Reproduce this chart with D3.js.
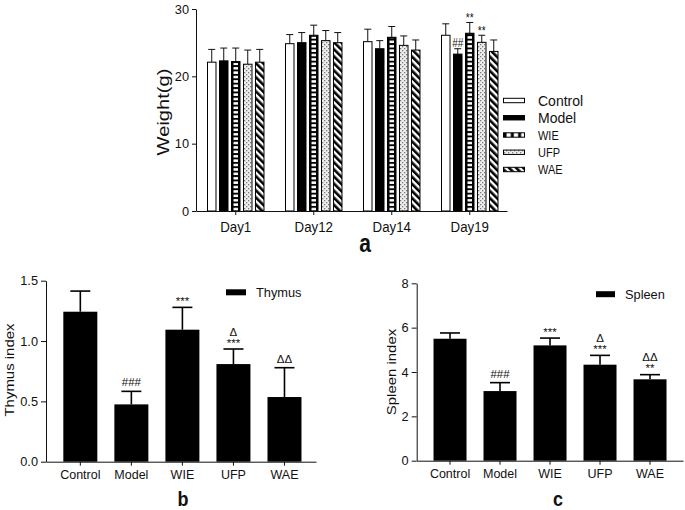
<!DOCTYPE html>
<html><head><meta charset="utf-8">
<script src="https://cdn.jsdelivr.net/npm/d3@7"></script>
<style>body{margin:0;background:#fff}svg{display:block}text{font-family:"Liberation Sans",Arial,sans-serif;fill:#111}</style>
</head><body>
<script>
// ---------- DATA ----------
const days = ["Day1", "Day12", "Day14", "Day19"];
const groups = ["Control", "Model", "WIE", "UFP", "WAE"];
// body weight means (g) per day
const controlW = [22.1, 24.85, 25.15, 26.1];
const modelW   = [22.3, 25.0, 24.1, 23.3];
const wieW     = [22.2, 26.1, 25.8, 26.4];
const ufpW     = [21.8, 25.3, 24.6, 25.05];
const waeW     = [22.1, 25.0, 23.9, 23.7];
// SD
const controlE = [1.9, 1.35, 1.85, 1.7];
const modelE   = [1.9, 1.5, 1.2, 0.8];
const wieE     = [2.0, 1.5, 1.6, 1.6];
const ufpE     = [2.1, 1.5, 1.4, 1.05];
const waeE     = [1.9, 1.5, 1.5, 1.7];
// significance marks on Day19
const day19Marks = ["", "##", "**", "**", ""];
const weightTicks = [0, 10, 20, 30];

const thymus    = [1.243, 0.475, 1.094, 0.809, 0.536];
const thymusE   = [0.171, 0.108, 0.185, 0.125, 0.243];
const thymusSig1 = ["", "###", "***", "***", "ΔΔ"];
const thymusSig2 = ["", "", "", "Δ", ""];
const thymusTicks = [0, 0.5, 1.0, 1.5];

const spleen    = [5.50, 3.14, 5.20, 4.33, 3.67];
const spleenE   = [0.26, 0.38, 0.33, 0.42, 0.21];
const spleenSig1 = ["", "###", "***", "***", "**"];
const spleenSig2 = ["", "", "", "Δ", "ΔΔ"];
const spleenTicks = [0, 2, 4, 6, 8];

// ---------- SETUP ----------
const svg = d3.select("body").append("svg").attr("width", 685).attr("height", 510);
const defs = svg.append("defs");

// WIE ladder (horizontal stripes)
const pW = defs.append("pattern").attr("id", "pWIE").attr("patternUnits", "userSpaceOnUse")
  .attr("width", 100).attr("height", 4.4);
pW.append("rect").attr("width", 100).attr("height", 4.4).attr("fill", "#000");
pW.append("rect").attr("width", 100).attr("height", 2.5).attr("y", 1).attr("fill", "#fff");
// WIE ladder for legend (vertical stripes)
const pWh = defs.append("pattern").attr("id", "pWIEh").attr("patternUnits", "userSpaceOnUse")
  .attr("width", 7.3).attr("height", 100).attr("x", 505);
pWh.append("rect").attr("width", 7.3).attr("height", 100).attr("fill", "#000");
pWh.append("rect").attr("width", 4.3).attr("height", 100).attr("x", 1.5).attr("fill", "#fff");
// UFP dotted
const pU = defs.append("pattern").attr("id", "pUFP").attr("patternUnits", "userSpaceOnUse")
  .attr("width", 4).attr("height", 4);
pU.append("rect").attr("width", 4).attr("height", 4).attr("fill", "#eeeeee");
pU.append("rect").attr("x", 0).attr("y", 0).attr("width", 1.3).attr("height", 1.3).attr("fill", "#7a7a7a");
pU.append("rect").attr("x", 2).attr("y", 2).attr("width", 1.3).attr("height", 1.3).attr("fill", "#7a7a7a");
// WAE diagonal stripes "\"
const pS = defs.append("pattern").attr("id", "pWAE").attr("patternUnits", "userSpaceOnUse")
  .attr("width", 5).attr("height", 5).attr("patternTransform", "rotate(-45)");
pS.append("rect").attr("width", 5).attr("height", 5).attr("fill", "#fff");
pS.append("rect").attr("width", 2.6).attr("height", 5).attr("fill", "#000");

function label(g, x, y, s, o = {}) {
  const t = g.append("text")
    .attr("transform", `translate(${x},${y}) scale(1,${o.sy || 1})` + (o.rot ? " rotate(-90)" : ""))
    .attr("font-size", o.size || 12)
    .attr("text-anchor", o.anchor || "middle")
    .text(s);
  if (o.weight) t.attr("font-weight", o.weight);
  if (o.rot) t.attr("dominant-baseline", "central");
  return t;
}
function styleAxis(ax) {
  ax.selectAll("path,line").attr("stroke", "#111").attr("stroke-width", 1);
}

// ---------- PANEL A ----------
const gA = svg.append("g");
const yA = d3.scaleLinear().domain([0, 30]).range([211, 9]);
const xA = d3.scaleBand().domain(days).range([196, 507]).paddingInner(0.263).paddingOuter(0.125).align(0.564);
const xAin = d3.scaleBand().domain(groups).range([0, xA.bandwidth()]).paddingInner(0.208);
const series = [
  { name: "Control", v: controlW, e: controlE, fill: "#fff" },
  { name: "Model", v: modelW, e: modelE, fill: "#000" },
  { name: "WIE", v: wieW, e: wieE, fill: "#000" },
  { name: "UFP", v: ufpW, e: ufpE, fill: "url(#pUFP)" },
  { name: "WAE", v: waeW, e: waeE, fill: "url(#pWAE)" }
];
const bw = xAin.bandwidth();
series.forEach((s, si) => {
  const sg = gA.append("g");
  const pts = days.map((d, i) => ({ d, v: s.v[i], e: s.e[i], x: xA(d) + xAin(s.name) }));
  sg.selectAll("line.eb").data(pts).join("line").attr("class", "eb")
    .attr("x1", p => p.x + bw / 2).attr("x2", p => p.x + bw / 2)
    .attr("y1", p => yA(p.v)).attr("y2", p => yA(p.v + p.e)).attr("stroke", "#111");
  sg.selectAll("line.cap").data(pts).join("line").attr("class", "cap")
    .attr("x1", p => p.x + bw / 2 - 3.5).attr("x2", p => p.x + bw / 2 + 3.5)
    .attr("y1", p => yA(p.v + p.e)).attr("y2", p => yA(p.v + p.e)).attr("stroke", "#111");
  sg.selectAll("rect.bar").data(pts).join("rect").attr("class", "bar")
    .attr("x", p => p.x + 0.5).attr("width", bw - 1)
    .attr("y", p => yA(p.v)).attr("height", p => yA(0) - yA(p.v))
    .attr("fill", s.fill).attr("stroke", "#000").attr("stroke-width", 1);
  if (s.name === "WIE") {
    sg.selectAll("rect.in").data(pts).join("rect").attr("class", "in")
      .attr("x", p => p.x + 2.5).attr("width", bw - 5)
      .attr("y", p => yA(p.v) + 1.5).attr("height", p => yA(0) - yA(p.v) - 1.5)
      .attr("fill", "url(#pWIE)");
  }
  const m = day19Marks[si];
  if (m) {
    const p = pts[3];
    const cy = yA(p.v + p.e) - (m[0] === "*" ? 7 : 6);
    label(gA, p.x + bw / 2, cy + (m[0] === "*" ? 0.57 : 0.36) * 10 * 1.2, m, { size: 10, sy: 1.2 });
  }
});
const axAy = gA.append("g").attr("transform", "translate(196,0)")
  .call(d3.axisLeft(yA).tickValues(weightTicks).tickSize(4).tickSizeOuter(0).tickPadding(3));
axAy.selectAll("text").attr("font-size", 12.8).attr("font-family", null);
styleAxis(axAy);
const axAx = gA.append("g").attr("transform", "translate(0,211)")
  .call(d3.axisBottom(xA).tickSize(4).tickSizeOuter(0));
axAx.selectAll("text").attr("y", 0).attr("dy", 0).attr("font-size", 13.3).attr("font-family", null)
  .attr("transform", "translate(0,20.5) scale(1,1.15)");
styleAxis(axAx);
label(gA, 163, 112, "Weight(g)", { size: 16.5, sy: 1.22, rot: true });
label(gA, 365, 251.7, "a", { size: 21, sy: 1.22, weight: "bold" });

// legend A
const legY = d3.scaleLinear().domain([0, 4]).range([100.5, 169.5]);
const legFill = ["#fff", "#000", "url(#pWIEh)", "url(#pUFP)", "url(#pWAE)"];
const legSize = [14, 14, 11, 11, 11];
const legSy = [1, 1, 1.2, 1.2, 1.2];
groups.forEach((gname, i) => {
  gA.append("rect").attr("x", 503.5).attr("width", 21).attr("y", legY(i) - 2.2).attr("height", 4.4)
    .attr("fill", legFill[i]).attr("stroke", "#000").attr("stroke-width", 1);
  label(gA, 538, legY(i) + 0.36 * legSize[i] * legSy[i], gname, { size: legSize[i], sy: legSy[i], anchor: "start" });
});

// ---------- PANELS B, C ----------
function indexPanel(cfg) {
  const g = svg.append("g");
  const y = d3.scaleLinear().domain(cfg.domain).range(cfg.yr);
  const x = d3.scaleBand().domain(groups).range(cfg.xr).paddingInner(cfg.pi).paddingOuter(cfg.po).align(cfg.al);
  const b = x.bandwidth();
  const pts = groups.map((gn, i) => ({ gn, v: cfg.v[i], e: cfg.e[i], x: x(gn) }));
  g.selectAll("line.eb").data(pts).join("line")
    .attr("x1", p => p.x + b / 2).attr("x2", p => p.x + b / 2)
    .attr("y1", p => y(p.v)).attr("y2", p => y(p.v + p.e)).attr("stroke", "#000").attr("stroke-width", 1.6);
  g.selectAll("line.cap").data(pts).join("line")
    .attr("x1", p => p.x + b / 2 - 10).attr("x2", p => p.x + b / 2 + 10)
    .attr("y1", p => y(p.v + p.e)).attr("y2", p => y(p.v + p.e)).attr("stroke", "#000").attr("stroke-width", 1.6);
  g.selectAll("rect.bar").data(pts).join("rect")
    .attr("x", p => p.x).attr("width", b)
    .attr("y", p => y(p.v)).attr("height", p => y(0) - y(p.v)).attr("fill", "#000");
  pts.forEach((p, i) => {
    const top = y(p.v + p.e);
    [cfg.s1[i], cfg.s2[i]].forEach((m, k) => {
      if (!m) return;
      const cy = top - (k === 0 ? 9 : 17.5);
      const f = 11.5;
      label(g, p.x + b / 2, cy + (m[0] === "*" ? 0.57 : 0.36) * f, m, { size: f });
    });
  });
  const ay = g.append("g").attr("transform", `translate(${cfg.xr[0]},0)`)
    .call(d3.axisLeft(y).tickValues(cfg.ticks).tickFormat(cfg.fmt).tickSize(5).tickSizeOuter(0).tickPadding(3));
  ay.selectAll("text").attr("font-size", 12.8).attr("font-family", null);
  styleAxis(ay);
  const ax = g.append("g").attr("transform", `translate(0,${cfg.yr[0]})`)
    .call(d3.axisBottom(x).tickSize(4).tickSizeOuter(0));
  ax.selectAll("text").attr("y", 17.8).attr("dy", 0).attr("font-size", 12.5).attr("font-family", null);
  styleAxis(ax);
  label(g, cfg.ylx, cfg.yly, cfg.ylab, { size: 13, sy: 1.15, rot: true });
  g.append("rect").attr("x", cfg.leg[0]).attr("y", cfg.leg[1] - 3).attr("width", cfg.leg[2]).attr("height", 6).attr("fill", "#000");
  label(g, cfg.leg[0] + cfg.leg[2] + 10, cfg.leg[1] + 4.6, cfg.legText, { size: 12.8, anchor: "start" });
  label(g, cfg.pl[0], cfg.pl[1], cfg.pl[2], { size: 18, sy: 1.15, weight: "bold" });
}
indexPanel({
  domain: [0, 1.5], yr: [461.7, 280.7], xr: [46, 316], pi: 0.334, po: 0.312, al: 0.544,
  v: thymus, e: thymusE, s1: thymusSig1, s2: thymusSig2, ticks: thymusTicks, fmt: d3.format(".1f"),
  ylab: "Thymus index", ylx: 9, yly: 370, leg: [226, 292.3, 20], legText: "Thymus", pl: [183, 506, "b"]
});
indexPanel({
  domain: [0, 8], yr: [460.7, 283.3], xr: [416.7, 683], pi: 0.34, po: 0.333, al: 0.505,
  v: spleen, e: spleenE, s1: spleenSig1, s2: spleenSig2, ticks: spleenTicks, fmt: d3.format("d"),
  ylab: "Spleen index", ylx: 391, yly: 372, leg: [596, 294.2, 19], legText: "Spleen", pl: [558, 506, "c"]
});
</script>
</body></html>
